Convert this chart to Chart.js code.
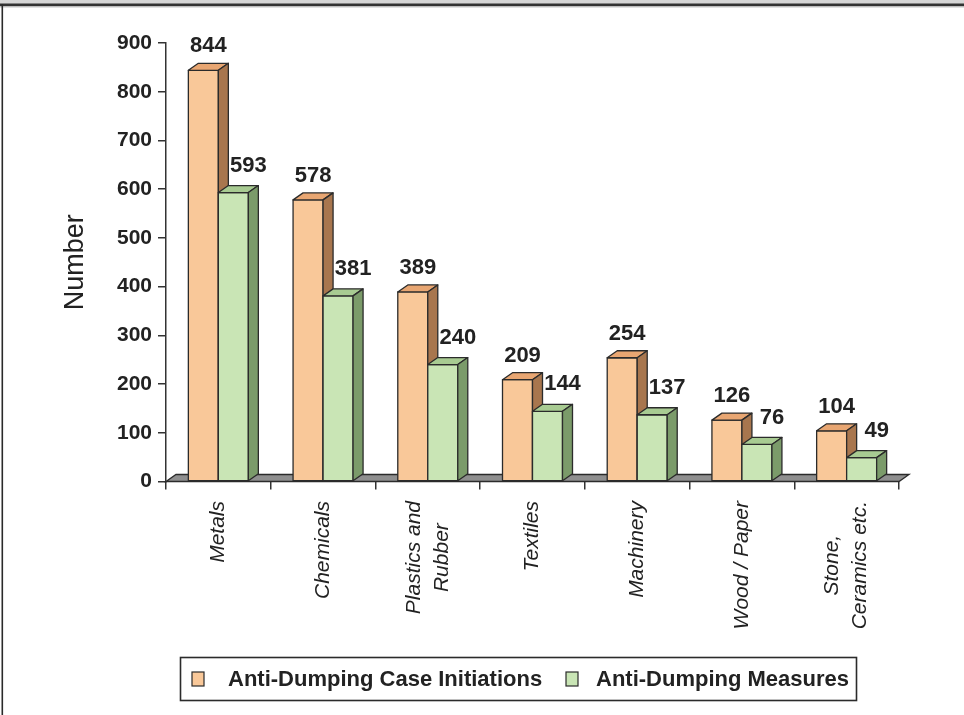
<!DOCTYPE html>
<html>
<head>
<meta charset="utf-8">
<title>Anti-Dumping by Sector</title>
<script src="https://cdn.jsdelivr.net/npm/chart.js@4.4.1/dist/chart.umd.min.js"></script>
<style>
  html, body { margin: 0; padding: 0; background: #fff; }
  #wrap { position: relative; width: 964px; height: 715px; }
  canvas { display: block; }
</style>
</head>
<body>
<div id="wrap"><canvas id="chart" width="964" height="715"></canvas></div>
<script>
// Sectors (multi-line entries are stacked labels)
const categories = [
  'Metals',
  'Chemicals',
  ['Plastics and', 'Rubber'],
  'Textiles',
  'Machinery',
  'Wood / Paper',
  ['Stone,', 'Ceramics etc.']
];
const seriesNames = ['Anti-Dumping Case Initiations', 'Anti-Dumping Measures'];
const caseInitiations = [844, 578, 389, 209, 254, 126, 104];
const measures = [593, 381, 240, 144, 137, 76, 49];
const yTickValues = [0, 100, 200, 300, 400, 500, 600, 700, 800, 900];
const yAxisTitle = 'Number';

const FONT = '"Liberation Sans", Arial, Helvetica, sans-serif';
const INK = '#222';
const EDGE = '#2b2b2b';
const DEPTH_X = 10, DEPTH_Y = 7;

// front / top / side shades of each series' prisms
const shades = [
  { front: '#F9C899', top: '#E8A672', side: '#A8764E' },
  { front: '#C9E5B5', top: '#A8CB92', side: '#7B9B6A' }
];

function prism(ctx, x0, x1, yTop, yBase, c) {
  ctx.lineWidth = 1.3;
  ctx.strokeStyle = EDGE;
  ctx.lineJoin = 'round';
  // front face
  ctx.beginPath();
  ctx.rect(x0, yTop, x1 - x0, yBase - yTop);
  ctx.fillStyle = c.front; ctx.fill(); ctx.stroke();
  // top face
  ctx.beginPath();
  ctx.moveTo(x0, yTop);
  ctx.lineTo(x0 + DEPTH_X, yTop - DEPTH_Y);
  ctx.lineTo(x1 + DEPTH_X, yTop - DEPTH_Y);
  ctx.lineTo(x1, yTop);
  ctx.closePath();
  ctx.fillStyle = c.top; ctx.fill(); ctx.stroke();
  // side face
  ctx.beginPath();
  ctx.moveTo(x1, yTop);
  ctx.lineTo(x1 + DEPTH_X, yTop - DEPTH_Y);
  ctx.lineTo(x1 + DEPTH_X, yBase - DEPTH_Y);
  ctx.lineTo(x1, yBase);
  ctx.closePath();
  ctx.fillStyle = c.side; ctx.fill(); ctx.stroke();
}

const bars3d = {
  id: 'bars3d',
  beforeDraw(chart) {
    const { ctx, width, height } = chart;
    ctx.save();
    ctx.fillStyle = '#fff';
    ctx.fillRect(0, 0, width, height);
    // page frame: top rule and left rule
    ctx.fillStyle = '#d6d6d6'; ctx.fillRect(0, 0, width, 4);
    ctx.fillStyle = '#333';    ctx.fillRect(0, 3.5, width, 3);
    ctx.fillStyle = '#e2e2e2'; ctx.fillRect(0, 6.5, width, 1.5);
    ctx.fillStyle = '#2a2a2a'; ctx.fillRect(1.5, 4, 1.6, height - 4);
    ctx.restore();
  },
  beforeDatasetsDraw(chart) {
    const { ctx, chartArea: a } = chart;
    const yBase = chart.scales.y.getPixelForValue(0);
    ctx.save();
    // floor
    ctx.beginPath();
    ctx.moveTo(a.left, yBase);
    ctx.lineTo(a.left + DEPTH_X, yBase - DEPTH_Y);
    ctx.lineTo(a.right + DEPTH_X, yBase - DEPTH_Y);
    ctx.lineTo(a.right, yBase);
    ctx.closePath();
    ctx.fillStyle = '#8f8f8f';
    ctx.fill();
    ctx.lineWidth = 1.3; ctx.strokeStyle = EDGE; ctx.stroke();

    const metas = chart.data.datasets.map((d, i) => chart.getDatasetMeta(i));
    const n = chart.data.labels.length;
    for (let j = 0; j < n; j++) {
      metas.forEach((m, i) => {
        const el = m.data[j];
        const p = el.getProps(['x', 'y', 'base', 'width'], true);
        prism(ctx, p.x - p.width / 2, p.x + p.width / 2, p.y, p.base, shades[i]);
      });
    }
    ctx.restore();
    return false;
  },
  afterDraw(chart) {
    const { ctx } = chart;
    const xs = chart.scales.x;
    const yBase = chart.scales.y.getPixelForValue(0);
    ctx.save();

    // value labels
    ctx.font = 'bold 22px ' + FONT;
    ctx.fillStyle = INK;
    ctx.textAlign = 'center';
    ctx.textBaseline = 'middle';
    chart.data.datasets.forEach((ds, i) => {
      const m = chart.getDatasetMeta(i);
      m.data.forEach((el, j) => {
        const dx = i === 0 ? 5 : 15;
        const dy = i === 0 ? 24 : 27;
        ctx.fillText(String(ds.data[j]), el.x + dx, el.y - dy);
      });
    });

    // rotated category labels
    ctx.font = 'italic 21px ' + FONT;
    const top = yBase + 19.5;
    const lh = 28;
    categories.forEach((cat, j) => {
      const lines = Array.isArray(cat) ? cat : [cat];
      const w = Math.max(...lines.map(s => ctx.measureText(s).width));
      const cx = xs.getPixelForValue(j);
      lines.forEach((s, k) => {
        ctx.save();
        ctx.translate(cx + (k - (lines.length - 1) / 2) * lh, top + w / 2);
        ctx.rotate(-Math.PI / 2);
        ctx.textAlign = 'center';
        ctx.textBaseline = 'middle';
        ctx.fillText(s, 0, 0);
        ctx.restore();
      });
    });

    // legend
    const lx = 180.5, ly = 657.5, lw = 676, lhgt = 43;
    ctx.lineWidth = 1.6;
    ctx.strokeStyle = EDGE;
    ctx.strokeRect(lx, ly, lw, lhgt);
    const cy = ly + lhgt / 2;
    const entries = [
      { sx: 192, tx: 228 },
      { sx: 566, tx: 596 }
    ];
    ctx.font = 'bold 22px ' + FONT;
    ctx.textAlign = 'left';
    ctx.textBaseline = 'middle';
    chart.data.datasets.forEach((ds, i) => {
      const e = entries[i];
      ctx.fillStyle = shades[i].front;
      ctx.fillRect(e.sx, cy - 7, 12, 14);
      ctx.lineWidth = 1.2;
      ctx.strokeStyle = EDGE;
      ctx.strokeRect(e.sx, cy - 7, 12, 14);
      ctx.fillStyle = INK;
      ctx.fillText(ds.label, e.tx, cy + 1);
    });
    ctx.restore();
  }
};

Chart.defaults.font.family = FONT;
Chart.defaults.color = INK;

new Chart(document.getElementById('chart'), {
  type: 'bar',
  data: {
    labels: categories,
    datasets: [
      { label: seriesNames[0], data: caseInitiations, backgroundColor: shades[0].front },
      { label: seriesNames[1], data: measures, backgroundColor: shades[1].front }
    ]
  },
  options: {
    responsive: false,
    devicePixelRatio: 1,
    animation: false,
    categoryPercentage: 0.573,
    barPercentage: 1.0,
    layout: { padding: { left: 0, right: 65, top: 43, bottom: 0 } },
    plugins: {
      legend: { display: false },
      tooltip: { enabled: false }
    },
    scales: {
      x: {
        offset: true,
        ticks: { display: false },
        grid: {
          offset: true,
          drawOnChartArea: false,
          drawTicks: true,
          tickLength: 8,
          color: '#333',
          lineWidth: 1.5
        },
        border: { display: false },
        afterFit(scale) { scale.height = 233.5; }
      },
      y: {
        min: 0,
        max: 900,
        afterBuildTicks(scale) { scale.ticks = yTickValues.map(v => ({ value: v })); },
        ticks: {
          font: { size: 21, weight: 'bold' },
          color: INK,
          padding: 6
        },
        grid: {
          drawOnChartArea: false,
          drawTicks: true,
          tickLength: 8,
          color: '#333',
          lineWidth: 1.5
        },
        border: { display: true, color: '#333', width: 1.5 },
        title: {
          display: true,
          text: yAxisTitle,
          font: { size: 27, weight: 'normal' },
          color: INK,
          padding: { top: 59, bottom: 0 }
        },
        afterFit(scale) { scale.width = 166; }
      }
    }
  },
  plugins: [bars3d]
});
</script>
</body>
</html>
